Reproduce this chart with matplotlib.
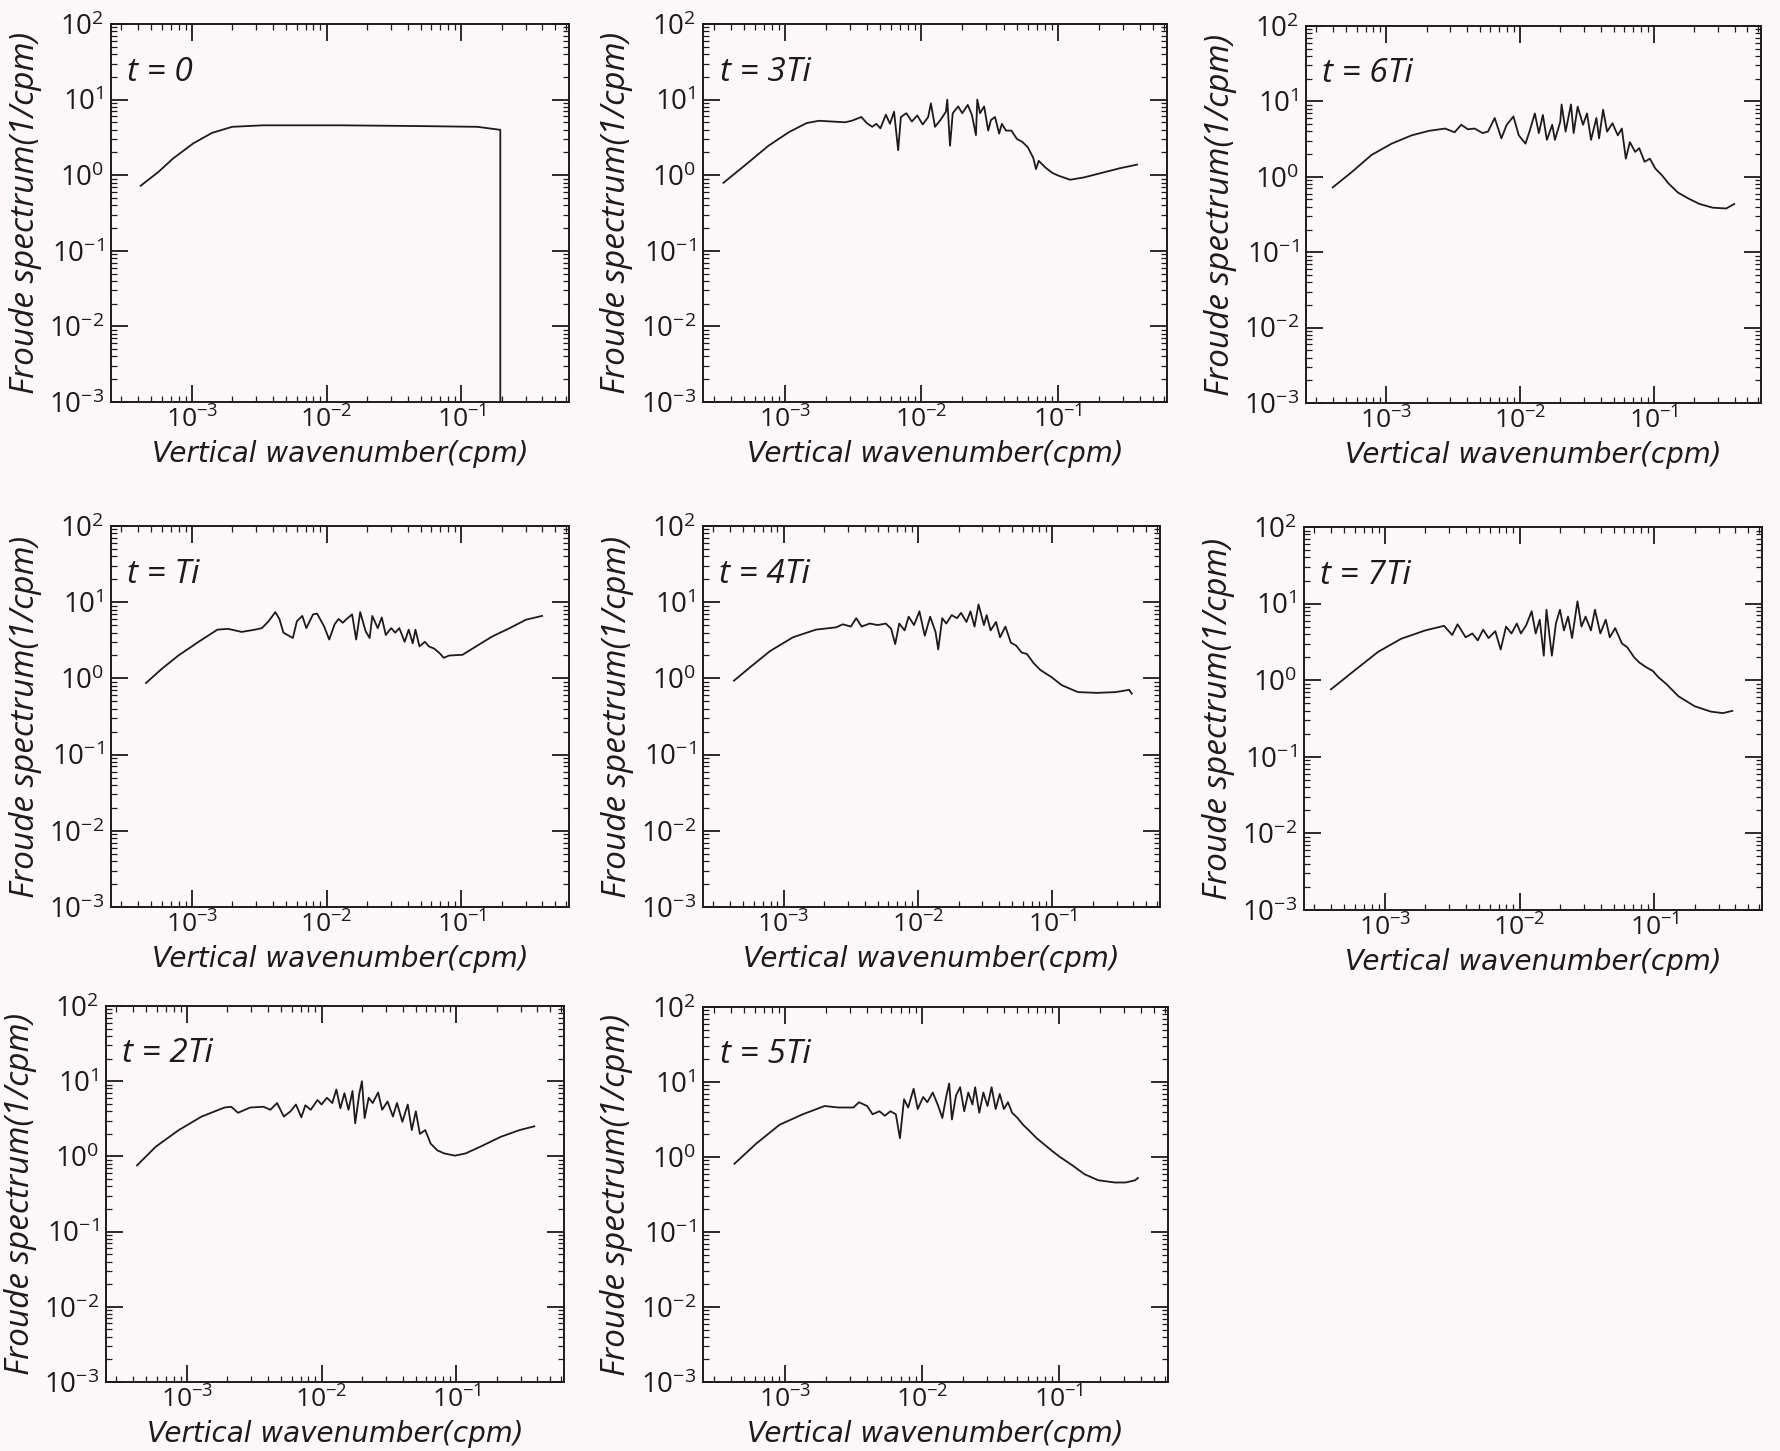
import matplotlib
matplotlib.use("Agg")
import matplotlib.pyplot as plt
import numpy as np
from matplotlib.ticker import LogLocator, NullFormatter

# ========================= data (log10 values) =========================

# t = 0
LOGK_T0 = [-3.38, -3.25, -3.14, -2.99, -2.85, -2.70, -2.47, -1.90, -1.32, -0.88, -0.71, -0.71]
LOGF_T0 = [-0.14, 0.04, 0.22, 0.42, 0.56, 0.64, 0.66, 0.66, 0.65, 0.64, 0.60, -3.0]

# t = Ti
LOGK_T1 = [-3.34, -3.22, -3.10, -2.95, -2.81, -2.73, -2.63, -2.53, -2.48, -2.43, -2.38, -2.35,
           -2.32, -2.25, -2.22, -2.18, -2.15, -2.10, -2.07, -2.02, -1.98, -1.94, -1.91, -1.88,
           -1.85, -1.81, -1.78, -1.75, -1.71, -1.68, -1.66, -1.62, -1.59, -1.56, -1.52, -1.49,
           -1.46, -1.42, -1.39, -1.36, -1.34, -1.31, -1.27, -1.24, -1.20, -1.16, -1.13, -1.09,
           -0.99, -0.89, -0.77, -0.64, -0.52, -0.40]
LOGF_T1 = [-0.06, 0.13, 0.30, 0.48, 0.64, 0.65, 0.61, 0.64, 0.66, 0.75, 0.87, 0.78,
           0.60, 0.53, 0.75, 0.82, 0.66, 0.84, 0.85, 0.69, 0.51, 0.71, 0.78, 0.73,
           0.78, 0.84, 0.51, 0.87, 0.62, 0.53, 0.82, 0.66, 0.80, 0.57, 0.66, 0.60,
           0.66, 0.48, 0.64, 0.46, 0.64, 0.42, 0.48, 0.42, 0.39, 0.33, 0.27, 0.30,
           0.31, 0.42, 0.55, 0.66, 0.77, 0.82]

# t = 2Ti
LOGK_T2 = [-3.37, -3.23, -3.06, -2.89, -2.72, -2.67, -2.62, -2.53, -2.43, -2.38, -2.33, -2.28,
           -2.23, -2.19, -2.15, -2.12, -2.08, -2.03, -2.00, -1.96, -1.92, -1.89, -1.86, -1.83,
           -1.80, -1.77, -1.75, -1.72, -1.70, -1.68, -1.65, -1.62, -1.58, -1.55, -1.51, -1.47,
           -1.44, -1.40, -1.36, -1.33, -1.30, -1.27, -1.23, -1.19, -1.14, -1.09, -1.01, -0.93,
           -0.82, -0.67, -0.53, -0.42]
LOGF_T2 = [-0.12, 0.13, 0.35, 0.53, 0.65, 0.66, 0.58, 0.65, 0.66, 0.62, 0.71, 0.53,
           0.60, 0.69, 0.52, 0.68, 0.62, 0.75, 0.69, 0.78, 0.71, 0.89, 0.64, 0.84,
           0.62, 0.87, 0.44, 0.83, 1.00, 0.51, 0.78, 0.71, 0.85, 0.62, 0.73, 0.53,
           0.71, 0.46, 0.69, 0.35, 0.60, 0.30, 0.35, 0.17, 0.08, 0.04, 0.01, 0.04,
           0.13, 0.26, 0.35, 0.40]

# t = 3Ti
LOGK_T3 = [-3.45, -3.30, -3.12, -2.97, -2.84, -2.75, -2.56, -2.51, -2.44, -2.40, -2.36, -2.33,
           -2.30, -2.26, -2.23, -2.20, -2.17, -2.15, -2.11, -2.07, -2.03, -1.99, -1.95, -1.93,
           -1.90, -1.86, -1.82, -1.81, -1.79, -1.77, -1.73, -1.70, -1.66, -1.63, -1.60, -1.59,
           -1.57, -1.54, -1.51, -1.49, -1.46, -1.43, -1.41, -1.38, -1.34, -1.30, -1.26, -1.22,
           -1.18, -1.16, -1.14, -1.09, -1.04, -0.99, -0.91, -0.81, -0.68, -0.55, -0.42]
LOGF_T3 = [-0.10, 0.12, 0.39, 0.57, 0.69, 0.72, 0.70, 0.72, 0.77, 0.69, 0.64, 0.68,
           0.62, 0.80, 0.68, 0.84, 0.33, 0.77, 0.82, 0.71, 0.79, 0.67, 0.77, 0.95,
           0.64, 0.73, 0.84, 1.00, 0.39, 0.82, 0.91, 0.82, 0.93, 0.80, 0.53, 1.00,
           0.82, 0.91, 0.59, 0.73, 0.77, 0.55, 0.68, 0.59, 0.59, 0.48, 0.44, 0.37,
           0.23, 0.08, 0.19, 0.10, 0.03, -0.01, -0.06, -0.03, 0.03, 0.09, 0.14]

# t = 4Ti
LOGK_T4 = [-3.37, -3.24, -3.10, -2.93, -2.76, -2.61, -2.56, -2.50, -2.46, -2.42, -2.36, -2.30,
           -2.24, -2.20, -2.17, -2.14, -2.10, -2.07, -2.03, -1.99, -1.95, -1.91, -1.87, -1.85,
           -1.82, -1.79, -1.75, -1.71, -1.68, -1.64, -1.61, -1.58, -1.55, -1.51, -1.49, -1.46,
           -1.42, -1.39, -1.35, -1.31, -1.27, -1.23, -1.19, -1.14, -1.09, -1.01, -0.93, -0.81,
           -0.67, -0.53, -0.43, -0.41]
LOGF_T4 = [-0.03, 0.16, 0.36, 0.54, 0.64, 0.67, 0.71, 0.68, 0.79, 0.68, 0.72, 0.70,
           0.72, 0.65, 0.45, 0.72, 0.63, 0.81, 0.70, 0.88, 0.56, 0.81, 0.61, 0.38,
           0.79, 0.72, 0.83, 0.79, 0.86, 0.74, 0.88, 0.68, 0.97, 0.70, 0.83, 0.63,
           0.74, 0.54, 0.68, 0.47, 0.43, 0.34, 0.32, 0.20, 0.11, 0.02, -0.09, -0.18,
           -0.19, -0.18, -0.15, -0.20]

# t = 5Ti
LOGK_T5 = [-3.37, -3.21, -3.04, -2.87, -2.71, -2.61, -2.50, -2.46, -2.40, -2.36, -2.31, -2.27,
           -2.23, -2.19, -2.16, -2.13, -2.10, -2.06, -2.03, -1.99, -1.96, -1.92, -1.88, -1.85,
           -1.82, -1.80, -1.78, -1.75, -1.72, -1.69, -1.66, -1.63, -1.61, -1.58, -1.55, -1.52,
           -1.49, -1.46, -1.43, -1.40, -1.37, -1.34, -1.30, -1.26, -1.22, -1.16, -1.10, -1.04,
           -0.99, -0.90, -0.81, -0.71, -0.59, -0.51, -0.44, -0.42]
LOGF_T5 = [-0.09, 0.18, 0.43, 0.57, 0.68, 0.66, 0.66, 0.73, 0.68, 0.57, 0.61, 0.55,
           0.61, 0.57, 0.25, 0.77, 0.66, 0.91, 0.64, 0.80, 0.73, 0.86, 0.68, 0.52,
           0.82, 0.98, 0.50, 0.82, 0.93, 0.61, 0.86, 0.70, 0.93, 0.59, 0.86, 0.68,
           0.93, 0.64, 0.84, 0.64, 0.73, 0.59, 0.52, 0.43, 0.36, 0.25, 0.16, 0.07,
           0.00, -0.11, -0.23, -0.31, -0.34, -0.34, -0.31, -0.28]

# t = 6Ti
LOGK_T6 = [-3.40, -3.26, -3.11, -2.96, -2.81, -2.68, -2.56, -2.49, -2.44, -2.39, -2.34, -2.28,
           -2.24, -2.19, -2.14, -2.10, -2.05, -2.01, -1.96, -1.93, -1.89, -1.86, -1.83, -1.80,
           -1.76, -1.74, -1.70, -1.69, -1.66, -1.62, -1.60, -1.57, -1.53, -1.50, -1.47, -1.43,
           -1.41, -1.38, -1.35, -1.31, -1.27, -1.24, -1.21, -1.18, -1.14, -1.11, -1.07, -1.03,
           -0.99, -0.94, -0.89, -0.82, -0.74, -0.66, -0.56, -0.46, -0.40]
LOGF_T6 = [-0.14, 0.06, 0.29, 0.44, 0.55, 0.61, 0.64, 0.59, 0.69, 0.63, 0.64, 0.58,
           0.60, 0.78, 0.51, 0.69, 0.80, 0.55, 0.44, 0.60, 0.84, 0.58, 0.82, 0.49,
           0.69, 0.49, 0.73, 0.96, 0.60, 0.96, 0.58, 0.93, 0.69, 0.84, 0.49, 0.78,
           0.51, 0.89, 0.60, 0.71, 0.55, 0.64, 0.24, 0.46, 0.33, 0.38, 0.20, 0.24,
           0.11, 0.02, -0.09, -0.21, -0.29, -0.36, -0.41, -0.42, -0.36]

# t = 7Ti
LOGK_T7 = [-3.40, -3.23, -3.05, -2.88, -2.70, -2.56, -2.50, -2.46, -2.40, -2.35, -2.31, -2.27,
           -2.23, -2.18, -2.14, -2.10, -2.06, -2.02, -1.99, -1.95, -1.91, -1.88, -1.85, -1.82,
           -1.80, -1.76, -1.73, -1.70, -1.67, -1.64, -1.61, -1.57, -1.54, -1.51, -1.47, -1.44,
           -1.40, -1.36, -1.33, -1.29, -1.24, -1.20, -1.15, -1.11, -1.06, -1.01, -0.97, -0.91,
           -0.82, -0.70, -0.58, -0.49, -0.42]
LOGF_T7 = [-0.12, 0.12, 0.37, 0.54, 0.65, 0.71, 0.59, 0.73, 0.56, 0.61, 0.52, 0.66,
           0.55, 0.64, 0.40, 0.70, 0.61, 0.74, 0.61, 0.72, 0.90, 0.61, 0.79, 0.32,
           0.92, 0.32, 0.74, 0.92, 0.65, 0.83, 0.55, 1.03, 0.70, 0.83, 0.65, 0.92,
           0.61, 0.79, 0.56, 0.68, 0.48, 0.43, 0.30, 0.23, 0.17, 0.12, 0.04, -0.05,
           -0.21, -0.34, -0.41, -0.43, -0.40]

LABELS = ["t = 0", "t = 3Ti", "t = 6Ti",
          "t = Ti", "t = 4Ti", "t = 7Ti",
          "t = 2Ti", "t = 5Ti"]
CURVES = [(LOGK_T0, LOGF_T0), (LOGK_T3, LOGF_T3), (LOGK_T6, LOGF_T6),
          (LOGK_T1, LOGF_T1), (LOGK_T4, LOGF_T4), (LOGK_T7, LOGF_T7),
          (LOGK_T2, LOGF_T2), (LOGK_T5, LOGF_T5)]

XLABEL = "Vertical wavenumber(cpm)"
YLABEL = "Froude spectrum(1/cpm)"

# ========================= layout (pixels in the 1780x1451 page) =========================

W, H = 1780, 1451
# left, top, right, bottom
BOXES = [(111, 24, 569, 402), (703, 24, 1167, 402), (1306, 26, 1761, 403),
         (111, 526, 569, 907), (703, 526, 1160, 907), (1304, 527, 1762, 910),
         (106, 1006, 564, 1382), (703, 1007, 1168, 1382)]

INK = "#1c1a1b"
BG = "#fcf8fa"

plt.rcParams["font.family"] = ["Open Sans", "DejaVu Sans"]
plt.rcParams["mathtext.default"] = "regular"
plt.rcParams["text.color"] = INK
plt.rcParams["axes.labelcolor"] = INK
plt.rcParams["xtick.color"] = INK
plt.rcParams["ytick.color"] = INK

fig = plt.figure(figsize=(W / 100, H / 100), dpi=100, facecolor=BG)

for (lk, lf), label, (l, t, r, b) in zip(CURVES, LABELS, BOXES):
    ax = fig.add_axes([l / W, 1 - b / H, (r - l) / W, (b - t) / H])
    ax.set_facecolor(BG)
    ax.plot(10 ** np.array(lk), 10 ** np.array(lf), color=INK, lw=1.3)

    ax.set_xscale("log")
    ax.set_yscale("log")
    ax.set_xlim(10 ** -3.6, 10 ** -0.2)
    ax.set_ylim(1e-3, 1e2)

    ax.xaxis.set_major_locator(LogLocator(base=10, numticks=10))
    ax.yaxis.set_major_locator(LogLocator(base=10, numticks=10))
    ax.xaxis.set_minor_locator(LogLocator(base=10, subs=np.arange(2, 10), numticks=20))
    ax.yaxis.set_minor_locator(LogLocator(base=10, subs=np.arange(2, 10), numticks=20))
    ax.xaxis.set_minor_formatter(NullFormatter())
    ax.yaxis.set_minor_formatter(NullFormatter())

    ax.tick_params(which="both", direction="in", top=True, right=True)
    ax.tick_params(which="major", length=12, width=1.3, labelsize=20)
    ax.tick_params(axis="x", which="major", labelsize=19, pad=3)
    ax.tick_params(axis="y", which="major", pad=5)
    ax.tick_params(which="minor", length=4, width=0.9)
    for sp in ax.spines.values():
        sp.set_linewidth(1.4)
        sp.set_color(INK)

    ax.set_xlabel(XLABEL, fontsize=20, style="oblique", va="top",
                  family=["DejaVu Sans"])
    ax.xaxis.set_label_coords(0.5, -0.1)
    ax.set_ylabel(YLABEL, fontsize=24, style="italic", va="center")
    ax.yaxis.set_label_coords(-0.187, 0.5)

    ax.text(0.036, 0.873, label, transform=ax.transAxes, fontsize=24,
            style="italic", ha="left", va="center", color=INK)

fig.savefig("out.png", dpi=100, facecolor=BG)
